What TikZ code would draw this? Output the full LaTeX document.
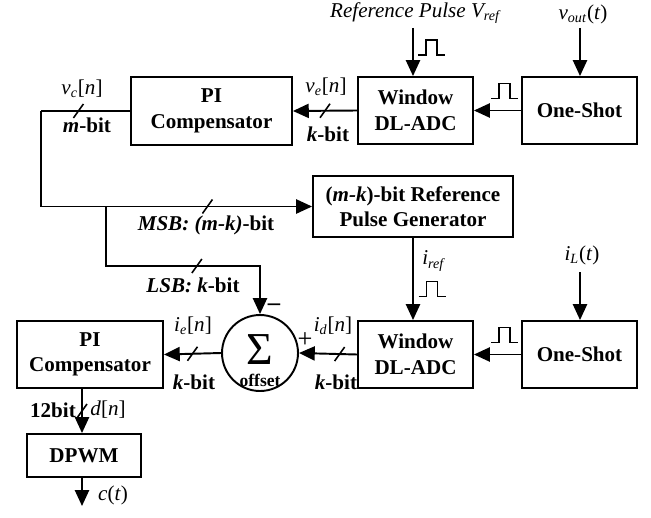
\documentclass[tikz,border=0pt]{standalone}
\usepackage{fontspec}
\setmainfont{Liberation Serif}
\usetikzlibrary{arrows.meta,positioning,calc}

\newcommand{\sig}[3]{\textit{#1}\textsubscript{\textit{#2}}#3}

\begin{document}
\begin{tikzpicture}[x=0.02cm, y=-0.02cm,
    font=\fontsize{12}{14.5}\selectfont,
    blk/.style={rectangle, draw, line width=1.1pt, align=center, font=\fontsize{12}{14.5}\selectfont\bfseries, inner sep=0pt},
    arr/.style={-{Triangle[length=9pt, width=8pt]}, line width=1.1pt},
    wire/.style={line width=1.1pt},
    busmark/.pic={\draw[line width=0.9pt] (-5,7) -- (5,-7);},
    pulse/.pic={\draw[line width=0.9pt] (-13.5,7.5) -- (-5.5,7.5) -- (-5.5,-7.5) -- (5.5,-7.5) -- (5.5,7.5) -- (13.5,7.5);}
  ]
    \useasboundingbox (0,0) rectangle (651,517);

    % Voltage loop blocks
    \node[blk, minimum width=3.22cm, minimum height=1.36cm] (pitop)  at (211.5,111)   {PI\\Compensator};
    \node[blk, minimum width=2.30cm, minimum height=1.34cm] (adctop) at (415.5,110.5) {Window\\DL-ADC};
    \node[blk, minimum width=2.30cm, minimum height=1.34cm] (ostop)  at (579.5,110.5) {One-Shot};
    \node[blk, minimum width=4.00cm, minimum height=1.22cm] (refgen) at (413,206.5)   {(\textit{m-k})-bit Reference\\Pulse Generator};

    % Current loop blocks
    \node[blk, minimum width=2.92cm, minimum height=1.34cm] (pibot)  at (90,354.5)    {PI\\Compensator};
    \node[blk, minimum width=2.30cm, minimum height=1.34cm] (adcbot) at (415.5,354.5) {Window\\DL-ADC};
    \node[blk, minimum width=2.30cm, minimum height=1.34cm] (osbot)  at (579.5,354.5) {One-Shot};
    \node[circle, draw, line width=1.1pt, minimum size=1.52cm, inner sep=0pt] (sum) at (260,353) {};
    \node[blk, minimum width=2.28cm, minimum height=0.86cm] (dpwm)   at (84,455.5)    {DPWM};

    \node[font=\fontsize{26}{26}\selectfont, inner sep=0pt] (sigma) at (260,350) {Σ};
    \node[font=\fontsize{10}{10}\selectfont\bfseries, inner sep=1pt] (offs) at (260,380) {offset};

    % Inputs
    \coordinate (vrefin) at (413,28);
    \coordinate (voutin) at (580,28);
    \coordinate (iLin)   at (580,272);
    \coordinate (cout)   at (82,506);

    \draw[arr] (vrefin) -- (vrefin |- adctop.north);
    \draw[arr] (voutin) -- (voutin |- ostop.north);
    \draw[arr] (iLin) -- (iLin |- osbot.north);

    % Voltage path
    \draw[arr] (ostop.west) -- (adctop.east);
    \draw[arr] (adctop.west) -- (pitop.east) coordinate[pos=0.5] (bve);
    \coordinate (c1) at (41,111);
    \coordinate (br) at (106,206.5);
    \coordinate (lsb) at (106,266);
    \draw[wire] (pitop.west) -- (c1) coordinate[pos=0.58] (bvc);
    \draw[arr] (c1) |- (refgen.west) coordinate[pos=0.807] (bmsb);
    \draw[arr] (br) -- (lsb) -| (sum.north) coordinate[pos=0.295] (blsb);

    % Current path
    \draw[arr] (refgen.south) -- (refgen.south |- adcbot.north);
    \draw[arr] (osbot.west) -- (adcbot.east);
    \draw[arr] (adcbot.west) -- (sum.east) coordinate[pos=0.3] (bid);
    \draw[arr] (sum.west) -- (pibot.east) coordinate[pos=0.5] (bie);
    \draw[arr] (pibot.south -| cout) -- (dpwm.north -| cout) coordinate[pos=0.5] (bd);
    \draw[arr] (dpwm.south -| cout) -- (cout);

    % Bus marks
    \foreach \b in {bve,bvc,bmsb,blsb,bid,bie,bd}
      \path (\b) pic{busmark};

    % Pulses
    \path (431.5,47.5) pic{pulse};
    \path (504.5,91) pic{pulse};
    \path (432,289) pic{pulse};
    \path (504.5,335) pic{pulse};

    % Labels
    \node (lvref) at (415,13)  {\textit{Reference Pulse V\textsubscript{ref}}};
    \node (lvout) at (583,14)  {\sig{v}{out}{(\textit{t})}};
    \node (liL)   at (582,255) {\sig{i}{L}{(\textit{t})}};
    \node (liref) at (434,261) {\sig{i}{ref}{}};
    \node (lvc)   at (82,89)   {\sig{v}{c}{[\textit{n}]}};
    \node (lmbit) at (87,125)  {\textbf{\textit{m}-bit}};
    \node (lve)   at (326,87)  {\sig{v}{e}{[\textit{n}]}};
    \node (lkve)  at (328,134) {\textbf{\textit{k}-bit}};
    \node (lmsb)  at (206,225) {\textbf{\textit{MSB: (m-k)}-bit}};
    \node (llsb)  at (193,285) {\textbf{\textit{LSB: k}-bit}};
    \node (lie)   at (193,326) {\sig{i}{e}{[\textit{n}]}};
    \node (lkie)  at (194,382) {\textbf{\textit{k}-bit}};
    \node (lid)   at (333,326) {\sig{i}{d}{[\textit{n}]}};
    \node (lkid)  at (336,382) {\textbf{\textit{k}-bit}};
    \node[font=\fontsize{14}{14}\selectfont\bfseries] (lminus) at (274,307) {–};
    \node[font=\fontsize{15}{15}\selectfont] (lplus) at (305,340) {+};
    \node (l12)   at (53,410)  {\textbf{12bit}};
    \node (ldn)   at (108,410) {\textit{d}[\textit{n}]};
    \node (lct)   at (113,495) {\textit{c}(\textit{t})};
\end{tikzpicture}
\end{document}
